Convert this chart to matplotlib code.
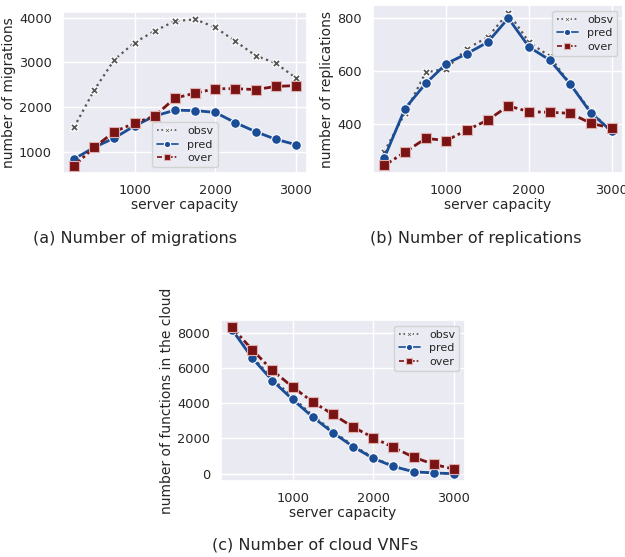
import matplotlib
matplotlib.use("Agg")
import matplotlib.pyplot as plt
import seaborn as sns

sns.set_theme(style="darkgrid")
plt.rcParams['font.family'] = ['DejaVu Sans']

capacity = [250, 500, 750, 1000, 1250, 1500, 1750, 2000, 2250, 2500, 2750, 3000]

mig_obsv = [1550, 2380, 3060, 3440, 3700, 3920, 3960, 3780, 3470, 3150, 2980, 2650]
mig_pred = [840, 1100, 1310, 1580, 1800, 1930, 1920, 1880, 1650, 1450, 1280, 1160]
mig_over = [690, 1100, 1450, 1640, 1800, 2200, 2310, 2410, 2410, 2390, 2460, 2480]

rep_obsv = [294, 440, 594, 608, 684, 727, 820, 708, 655, 549, 447, 368]
rep_pred = [271, 457, 552, 627, 665, 708, 799, 690, 641, 549, 440, 371]
rep_over = [242, 292, 344, 336, 376, 413, 467, 445, 443, 439, 401, 383]

cloud_obsv = [8150, 6650, 5400, 4350, 3300, 2420, 1600, 920, 430, 120, 40, 10]
cloud_pred = [8190, 6570, 5290, 4220, 3220, 2330, 1540, 870, 410, 110, 40, 0]
cloud_over = [8320, 7040, 5870, 4930, 4080, 3370, 2650, 2050, 1490, 940, 530, 260]

series_labels = ["obsv", "pred", "over"]
x_ticks = [1000, 2000, 3000]

styles = [
    dict(color="#555555", ls=":", lw=1.6, marker="X", ms=6, mec="white", mew=0.8),
    dict(color="#1a4d96", ls="-", lw=2.0, marker="o", ms=7, mec="white", mew=0.8),
    dict(color="#7a1414", ls=(0, (3, 1.2, 1, 1.2)), lw=2.0, marker="s", ms=7, mec="#e0b0b0", mew=0.8),
]

W, H = 625, 557
fig = plt.figure(figsize=(W / 100, H / 100), dpi=100)

def ax_px(l, t, r, b):
    return fig.add_axes([l / W, (H - b) / H, (r - l) / W, (b - t) / H])

def draw(ax, data, ylabel, yticks, loc):
    for vals, lab, st in zip(data, series_labels, styles):
        ax.plot(capacity, vals, label=lab, **st)
    ax.set_xticks(x_ticks)
    ax.set_yticks(yticks)
    ax.set_xlabel("server capacity", fontsize=10, labelpad=1)
    ax.set_ylabel(ylabel, fontsize=10, labelpad=2)
    ax.tick_params(labelsize=9.3, pad=2)
    leg = ax.legend(loc=loc, fontsize=8, handlelength=1.9, markerscale=0.65,
                    labelspacing=0.3, borderpad=0.4, handletextpad=0.8)
    for ln in leg.get_lines():
        ln.set_linewidth(1.2)

axa = ax_px(63, 12, 307, 173)
draw(axa, [mig_obsv, mig_pred, mig_over], "number of migrations", [1000, 2000, 3000, 4000], "lower center")

axb = ax_px(373, 5, 623, 173)
draw(axb, [rep_obsv, rep_pred, rep_over], "number of replications", [400, 600, 800], "upper right")

axc = ax_px(221, 320, 465, 481)
draw(axc, [cloud_obsv, cloud_pred, cloud_over], "number of functions in the cloud", [0, 2000, 4000, 6000, 8000], "upper right")

fig.text(135 / W, 1 - 238 / H, "(a) Number of migrations", ha="center", va="center", fontsize=11.5)
fig.text(476 / W, 1 - 238 / H, "(b) Number of replications", ha="center", va="center", fontsize=11.5)
fig.text(315 / W, 1 - 545 / H, "(c) Number of cloud VNFs", ha="center", va="center", fontsize=11.5)

fig.savefig("out.png", dpi=100)
